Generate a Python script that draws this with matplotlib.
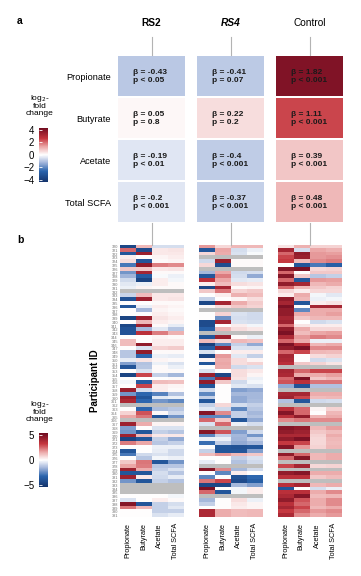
import numpy as np
import matplotlib
matplotlib.use("Agg")
import matplotlib.pyplot as plt
from matplotlib.colors import LinearSegmentedColormap, Normalize
from matplotlib.lines import Line2D
import matplotlib.cm as cm

plt.rcParams['font.family'] = ['Liberation Sans', 'DejaVu Sans']

# ---------------- data: panel a ----------------
groups = ["RS2", "RS4", "Control"]
scfa = ["Propionate", "Butyrate", "Acetate", "Total SCFA"]
beta_rs2 = [-0.43, 0.05, -0.19, -0.2]
p_rs2 = ["p < 0.05", "p = 0.8", "p < 0.01", "p < 0.001"]
beta_rs4 = [-0.41, 0.22, -0.4, -0.37]
p_rs4 = ["p = 0.07", "p = 0.2", "p < 0.001", "p < 0.001"]
beta_control = [1.82, 1.11, 0.39, 0.48]
p_control = ["p < 0.001", "p < 0.001", "p < 0.001", "p < 0.001"]

# ---------------- data: panel b (log2 fold change; nan = missing) ----------------
nan = np.nan
participant_ids = [320, 321, 322, 323, 324, 325, 326, 327, 328, 329, 330, 331, 332, 333, 334, 335,
                   336, 337, 338, 339, 340, 341, 342, 343, 344, 345, 346, 347, 348, 349, 350, 351,
                   352, 353, 354, 355, 356, 357, 358, 359, 360, 361, 362, 363, 364, 365, 366, 367,
                   368, 369, 370, 371, 372, 373, 374, 375, 376, 377, 378, 379, 380, 381, 382, 383,
                   384, 385, 386, 387, 388, 389, 390, 391]

rs2_values = [
    [-4.5, 1.3, -0.7, -0.7], [2.5, -4.3, 0.4, 0.5], [-3.8, 4.3, 0.4, 0.4], [0.3, 0.0, 0.2, 0.3],
    [0.6, -3.8, 0.1, 0.2], [-2.8, 4.5, 2.2, 2.0], [1.0, 1.0, 0.4, 0.5], [-2.2, 4.0, 0.1, 0.1],
    [-1.6, -3.6, -0.1, -0.3], [-0.8, -4.6, 0.3, -0.2], [-0.5, -0.3, 0.3, 0.1], [-0.3, 0.2, 0.1, 0.1],
    [nan, nan, nan, nan], [-0.9, 1.2, 0.4, 0.4], [-4.0, 4.2, 0.4, 0.5], [0.0, 0.0, 0.1, 0.1],
    [-3.8, -0.3, 0.3, 0.2], [0.0, -1.5, 0.2, 0.1], [0.0, 0.0, 0.3, 0.2], [-4.6, 4.2, 0.5, 0.3],
    [0.0, 1.3, 0.3, 0.2], [-4.5, 4.2, 0.1, -0.4], [-4.0, -1.5, -0.5, -1.2], [-4.0, 3.5, 2.2, 1.4],
    [0.0, 0.0, 0.2, 0.1], [1.2, 0.0, 0.3, 0.3], [1.2, 4.5, 0.3, 0.3], [0.0, -0.6, 0.8, 0.9],
    [-1.2, 4.5, 0.1, 0.1], [-1.2, -3.2, -0.3, -0.4], [-0.4, 0.5, 0.2, 0.1], [-2.0, -1.3, -0.3, -0.6],
    [-3.9, -1.2, 0.1, -0.3], [0.0, -0.6, 0.1, 0.1], [-4.6, 3.0, -1.0, -1.5], [0.0, 0.0, 0.0, 0.1],
    [-0.2, -3.6, 1.2, 1.1], [0.0, 3.0, 0.3, 0.2], [4.3, -0.7, 0.3, 0.1], [-2.2, -3.2, -2.6, -1.3],
    [4.3, -3.8, -0.5, -0.3], [3.8, -3.2, -2.2, -2.5], [nan, nan, nan, nan], [0.0, -3.2, -1.4, -1.2],
    [0.8, 2.8, 0.1, -0.8], [1.6, 2.3, -3.8, -2.2], [nan, nan, nan, nan], [4.2, 1.5, 0.2, 0.2],
    [-2.0, 0.0, -0.6, -0.6], [-2.2, -3.8, -1.0, -1.2], [4.2, 1.3, 0.4, 0.4], [-4.6, -3.8, -1.0, -1.8],
    [2.2, 1.6, -1.2, -1.0], [0.0, 0.0, -0.3, -0.3], [-3.8, 0.0, -0.4, -0.8], [-2.8, -0.8, -0.6, -0.8],
    [0.0, -1.2, -0.2, -0.3], [1.0, 2.3, -3.8, -2.2], [1.6, 2.2, -1.2, -1.2], [4.2, 1.5, -1.0, -0.6],
    [-3.8, -3.8, -0.7, -1.2], [4.2, 0.4, -0.8, -0.4], [-2.2, -3.8, -1.0, -1.3], [nan, nan, nan, nan],
    [nan, nan, nan, nan], [nan, nan, nan, nan], [0.0, 0.0, 0.0, -0.2], [-0.6, 0.0, 0.3, 0.1],
    [4.8, -3.8, -1.0, -0.7], [2.3, 1.3, -1.0, -0.5], [0.0, 0.0, -1.0, -1.0], [0.0, 0.0, -0.6, -0.4],
]

rs4_values = [
    [1.8, 0.7, 1.3, 1.3], [-3.8, 1.6, -0.7, -0.3], [0.7, 1.5, -0.6, -0.1], [nan, nan, nan, nan],
    [-0.8, 4.3, 0.1, 0.1], [0.7, -4.2, 0.1, 0.1], [nan, nan, nan, nan], [-1.5, 1.6, -0.8, -0.7],
    [-3.8, 2.2, -0.7, -1.8], [3.5, 1.6, -0.5, -0.4], [0.3, 1.2, 0.6, 0.5], [-4.5, 4.0, 0.1, 0.2],
    [1.0, 2.3, 0.8, 1.0], [0.0, 0.3, 1.4, 1.2], [-1.0, 0.0, 0.2, 0.6], [-4.5, 4.0, 1.5, 0.9],
    [0.1, 0.6, 1.0, 0.8], [nan, nan, nan, nan], [0.0, 0.8, -0.6, -0.8], [0.0, -2.3, -0.7, -0.8],
    [-4.3, 4.0, -0.6, -0.7], [-4.3, 0.0, 0.3, -0.2], [-3.5, 1.3, 0.6, 0.4], [nan, nan, nan, nan],
    [-3.8, 4.2, 0.1, -0.3], [1.2, 0.7, 1.3, 1.1], [-4.8, -2.5, -1.0, -1.8], [-3.6, 4.3, -0.6, -0.6],
    [-0.6, 0.0, 0.3, 0.3], [-4.5, 1.8, -0.5, -1.0], [0.2, 1.5, 0.6, 0.2], [-3.8, 1.6, 0.6, 0.8],
    [0.0, 1.5, -0.8, -0.6], [-0.6, 0.0, 0.6, 0.4], [4.3, -4.5, 0.6, 0.2], [-2.8, 4.0, 0.5, -0.3],
    [4.5, 1.0, -0.8, -0.2], [-3.8, 0.0, -0.5, -0.6], [-0.8, 0.0, -2.0, -1.8], [-2.5, 0.0, -1.5, -1.5],
    [-1.0, 0.0, -1.8, -1.5], [-3.8, 0.0, -1.8, -1.4], [-1.0, 0.7, -0.7, -1.0], [-0.5, -0.8, -2.5, -1.2],
    [4.8, 2.0, -1.0, -1.5], [-2.5, -2.5, -1.0, -1.3], [2.5, 1.0, -3.8, -1.8], [-0.6, 2.5, -0.3, -0.7],
    [nan, nan, nan, nan], [4.8, 2.8, -2.0, -0.8], [-2.5, -1.0, -1.5, -2.2], [-0.3, -0.3, -1.6, -1.0],
    [-3.0, -1.0, -1.8, -1.5], [0.0, -3.8, -4.0, -3.8], [-1.0, -3.8, -3.8, -2.0], [1.2, 1.8, 1.3, 1.0],
    [0.0, 0.0, -1.0, -0.6], [-0.4, 0.0, -1.3, -0.8], [nan, nan, nan, nan], [4.8, 2.0, -1.5, -0.8],
    [0.0, -2.5, 0.3, 0.0], [-2.5, 0.0, -4.0, -3.2], [2.3, 3.0, -4.3, -3.5], [-4.5, -4.5, -1.5, -2.0],
    [5.0, 0.0, -0.2, 0.3], [2.5, -3.8, -0.2, 0.3], [nan, nan, nan, nan], [-1.5, 0.0, 0.6, -0.3],
    [-1.0, 0.0, 0.4, 0.2], [0.0, 0.0, 0.3, 0.2], [3.8, 1.5, 1.2, 1.3], [3.8, 1.5, 1.2, 1.3],
]

control_values = [
    [0.5, 1.4, 0.8, 0.8], [4.0, -0.7, 1.6, 1.4], [2.5, 4.5, 1.8, 1.7], [3.0, 4.3, 1.8, 1.9],
    [3.2, 1.2, 2.0, 2.2], [0.0, -3.8, -2.8, -3.5], [4.8, 5.0, 0.7, 0.8], [2.5, 0.0, 1.0, 1.0],
    [4.8, 1.0, -1.2, -1.0], [2.5, -3.8, 1.8, 1.7], [4.5, 4.0, 1.3, 1.5], [2.5, 1.3, 1.0, 0.8],
    [0.7, 0.3, 0.7, 0.7], [0.3, 1.5, -0.2, -0.5], [4.5, 1.3, -0.3, -0.2], [4.0, -3.8, 0.3, 0.5],
    [5.0, 0.0, 4.0, 4.0], [4.5, -2.5, 1.5, 1.5], [4.5, 1.5, 1.5, 1.7], [4.0, 1.0, 1.3, 1.3],
    [4.2, 0.0, -0.8, -0.6], [2.5, 0.5, 0.3, 0.3], [4.5, 1.5, 0.7, 0.7], [5.0, 1.2, 1.6, 1.7],
    [3.8, 1.8, 2.2, 2.0], [2.5, 1.5, -0.3, -0.3], [5.0, 3.5, 1.3, 1.5], [4.5, 5.0, 2.0, 2.0],
    [2.5, 3.0, 1.3, 1.2], [4.0, 0.0, 0.6, 0.8], [3.8, 0.0, -0.8, -0.6], [3.5, 1.0, 0.8, 0.5],
    [nan, nan, nan, nan], [4.0, 2.5, 3.0, 3.0], [3.8, 1.5, 1.5, 1.7], [2.5, 5.0, 1.0, 1.3],
    [2.8, 3.5, 2.3, 2.3], [-1.8, -4.0, -1.3, -1.3], [nan, nan, nan, nan], [4.0, 4.0, 1.5, 1.5],
    [4.2, 3.0, 1.2, 1.3], [-1.3, -3.8, -0.8, -0.7], [nan, nan, nan, nan], [3.5, 2.5, 0.2, 0.8],
    [4.8, 2.5, 0.0, 1.3], [3.5, 4.5, 1.3, 1.5], [2.0, 2.3, 2.0, 2.0], [nan, nan, nan, nan],
    [4.8, 4.5, 1.3, 1.7], [4.5, 4.2, 1.0, 1.2], [3.8, 3.8, 0.8, 1.5], [4.5, 5.0, 0.7, 1.3],
    [3.2, 3.0, 0.7, 1.2], [4.8, 1.8, 0.8, 1.3], [nan, nan, nan, nan], [4.5, 2.5, 1.3, 1.5],
    [2.5, 4.8, 1.3, 1.5], [nan, nan, nan, nan], [3.0, 4.0, 0.7, 0.8], [nan, nan, nan, nan],
    [4.5, 4.8, 1.5, 1.5], [3.5, 3.5, 1.0, 1.2], [nan, nan, nan, nan], [3.5, 4.0, 1.3, 1.5],
    [-3.8, 0.0, -0.7, -0.3], [3.5, 3.5, 1.5, 2.0], [3.8, 4.8, 1.2, 1.3], [4.5, 2.8, 1.5, 2.0],
    [3.5, 2.5, 1.5, 2.0], [4.0, 3.0, 1.3, 1.5], [3.2, 2.5, 1.8, 2.0], [3.8, 2.0, 1.5, 1.8],
]

# ---------------- styling ----------------
W, H = 361, 576
cmap = LinearSegmentedColormap.from_list(
    "lfc", [(0.0, "#14336b"), (0.2, "#2a64ad"), (0.35, "#9fb3d9"), (0.5, "#ffffff"),
            (0.65, "#eba6a6"), (0.8, "#c5363e"), (1.0, "#6d0a1f")])
cmap.set_bad("#bebebe")
line_col = "#b3b3b3"

fig = plt.figure(figsize=(W / 100, H / 100), dpi=100)


def px_axes(x0, y0, x1, y1):
    return fig.add_axes([x0 / W, 1 - y1 / H, (x1 - x0) / W, (y1 - y0) / H])


def vline(x, y0, y1):
    fig.add_artist(Line2D([x / W, x / W], [1 - y0 / H, 1 - y1 / H],
                          color=line_col, lw=0.8, transform=fig.transFigure))


# ---------------- panel a ----------------
fig.text(17 / W, 1 - 21 / H, "a", fontsize=7.5, fontweight="bold", va="center", ha="left")

top_x = [(117, 186), (196, 265), (275, 344)]
betas = [beta_rs2, beta_rs4, beta_control]
pvals = [p_rs2, p_rs4, p_control]
header_style = [dict(fontweight="bold"), dict(fontweight="bold", fontstyle="italic"), dict()]
norm_a = Normalize(-2, 2)

for gi, (x0, x1) in enumerate(top_x):
    ax = px_axes(x0, 55, x1, 223)
    vals = np.array(betas[gi]).reshape(-1, 1)
    ax.pcolormesh(np.arange(2), np.arange(len(scfa) + 1), vals, cmap=cmap, norm=norm_a,
                  edgecolor="white", linewidth=0.3)
    ax.set_xlim(0, 1)
    ax.set_ylim(len(scfa), 0)
    for s in ax.spines.values():
        s.set_visible(False)
    ax.set_xticks([])
    if gi == 0:
        ax.set_yticks(np.arange(len(scfa)) + 0.5)
        ax.set_yticklabels(scfa, fontsize=6.6)
        ax.tick_params(axis="y", length=0, pad=4.5)
    else:
        ax.set_yticks([])
    for ri in range(len(scfa)):
        ax.text(16 / (x1 - x0), ri + 0.5, f"β = {betas[gi][ri]}\n{pvals[gi][ri]}",
                fontsize=6.0, fontweight="bold", color="#1a1a1a", ha="left", va="center",
                linespacing=1.2)
    cx = (x0 + x1) / 2
    fig.text(cx / W, 1 - 23 / H, groups[gi], fontsize=7.3, ha="center", va="center",
             **header_style[gi])
    vline(cx, 36.5, 55)
    vline(cx, 223, 245)

# colorbar a
fig.text(40 / W, 1 - 105 / H, "log$_2$-\nfold\nchange", fontsize=6, ha="center", va="center",
         linespacing=0.95)
cax_a = px_axes(38.5, 127.5, 48, 182)
sm_a = cm.ScalarMappable(norm=Normalize(-4.4, 4.4), cmap=cmap)
cb_a = fig.colorbar(sm_a, cax=cax_a, ticks=[4, 2, 0, -2, -4])
cb_a.outline.set_visible(False)
cax_a.yaxis.set_ticks_position("left")
cax_a.tick_params(labelsize=7, direction="in", color="white", length=2, width=0.6, pad=3)

# ---------------- panel b ----------------
fig.text(17 / W, 1 - 240 / H, "b", fontsize=7.5, fontweight="bold", va="center", ha="left")

bot_x = [(120, 183), (199, 262), (277.5, 341)]
heat = [rs2_values, rs4_values, control_values]
norm_b = Normalize(-5.4, 5.4)
n_rows = len(participant_ids)
for gi, (x0, x1) in enumerate(bot_x):
    ax = px_axes(x0, 244.7, x1, 517.5)
    arr = np.ma.masked_invalid(np.array(heat[gi], dtype=float))
    ax.imshow(arr, cmap=cmap, norm=norm_b, aspect="auto", interpolation="nearest",
              extent=(0, len(scfa), n_rows, 0))
    ax.set_xlim(0, len(scfa))
    ax.set_ylim(n_rows, 0)
    for s in ax.spines.values():
        s.set_visible(False)
    ax.set_xticks(np.arange(len(scfa)) + 0.5)
    ax.set_xticklabels(scfa, rotation=90, fontsize=5.2)
    ax.tick_params(axis="x", length=0, pad=4)
    if gi == 0:
        ax.set_yticks(np.arange(n_rows) + 0.5)
        ax.set_yticklabels([str(p) for p in participant_ids], fontsize=2.8, color="#707070")
        ax.tick_params(axis="y", length=0, pad=1.5)
        ax.set_ylabel("Participant ID", fontsize=7, fontweight="bold", labelpad=8)
    else:
        ax.set_yticks([])

# colorbar b
fig.text(40 / W, 1 - 411 / H, "log$_2$-\nfold\nchange", fontsize=6, ha="center", va="center",
         linespacing=0.95)
cax_b = px_axes(38.5, 433, 48, 487)
sm_b = cm.ScalarMappable(norm=norm_b, cmap=cmap)
cb_b = fig.colorbar(sm_b, cax=cax_b, ticks=[5, 0, -5])
cb_b.outline.set_visible(False)
cax_b.yaxis.set_ticks_position("left")
cax_b.tick_params(labelsize=7, direction="in", color="white", length=2, width=0.6, pad=3)

fig.savefig("out.png", dpi=100, facecolor="white")
